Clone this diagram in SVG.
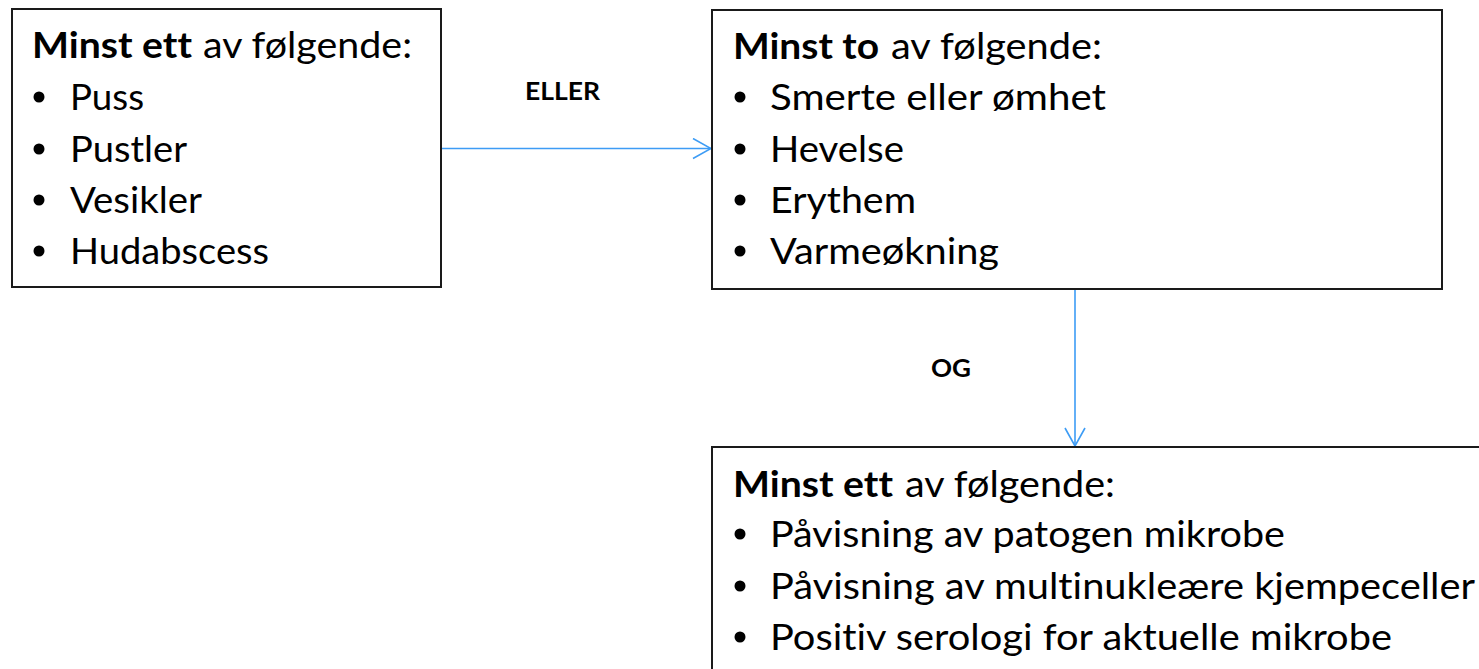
<svg xmlns="http://www.w3.org/2000/svg" width="1479" height="669" viewBox="0 0 1479 669">
  <style>
    .box { fill: #ffffff; stroke: #1a1a1a; stroke-width: 2; }
    .t { font-family: Lato, "Liberation Sans", sans-serif; font-size: 36px; fill: #000000; font-variant-ligatures: none; }
    .b { font-weight: bold; }
    .lbl { font-family: Lato, "Liberation Sans", sans-serif; font-size: 25px; font-weight: bold; fill: #000000; }
    .dot { fill: #000000; }
    .wire { fill: none; stroke: #3d9cf5; stroke-width: 1.6; }
  </style>
  <defs>
    <marker id="open" viewBox="0 0 20 22" refX="19" refY="11" markerWidth="20" markerHeight="22" markerUnits="userSpaceOnUse" orient="auto">
      <path d="M1,1 L19,11 L1,21" fill="none" stroke="#3d9cf5" stroke-width="1.6"/>
    </marker>
  </defs>

  <rect width="1479" height="669" fill="#ffffff"/>

  <g id="connectors">
    <line class="wire" x1="441" y1="148.5" x2="711" y2="148.5" marker-end="url(#open)"/>
    <line class="wire" x1="1075" y1="289" x2="1075" y2="446" marker-end="url(#open)"/>
    <text class="lbl" x="525" y="100" textLength="75" lengthAdjust="spacingAndGlyphs">ELLER</text>
    <text class="lbl" x="931" y="377" textLength="40" lengthAdjust="spacingAndGlyphs">OG</text>
  </g>

  <g id="node-lokale-tegn">
    <rect class="box" x="12" y="9" width="429" height="278"/>
    <text class="t b" x="32" y="58" textLength="160" lengthAdjust="spacingAndGlyphs">Minst ett</text>
    <text class="t" x="203" y="58" textLength="209" lengthAdjust="spacingAndGlyphs">av følgende:</text>
    <circle class="dot" cx="39" cy="97" r="5.5"/>
    <circle class="dot" cx="39" cy="149" r="5.5"/>
    <circle class="dot" cx="39" cy="200" r="5.5"/>
    <circle class="dot" cx="39" cy="251" r="5.5"/>
    <text class="t" x="70" y="110" textLength="74" lengthAdjust="spacingAndGlyphs">Puss</text>
    <text class="t" x="70" y="162" textLength="117" lengthAdjust="spacingAndGlyphs">Pustler</text>
    <text class="t" x="70" y="213" textLength="132" lengthAdjust="spacingAndGlyphs">Vesikler</text>
    <text class="t" x="70" y="264" textLength="199" lengthAdjust="spacingAndGlyphs">Hudabscess</text>
  </g>

  <g id="node-inflammasjon">
    <rect class="box" x="712" y="10" width="730" height="279"/>
    <text class="t b" x="733" y="59" textLength="146" lengthAdjust="spacingAndGlyphs">Minst to</text>
    <text class="t" x="891" y="59" textLength="211" lengthAdjust="spacingAndGlyphs">av følgende:</text>
    <circle class="dot" cx="740" cy="97" r="5.5"/>
    <circle class="dot" cx="740" cy="149" r="5.5"/>
    <circle class="dot" cx="740" cy="200" r="5.5"/>
    <circle class="dot" cx="740" cy="251" r="5.5"/>
    <text class="t" x="770" y="110" textLength="336" lengthAdjust="spacingAndGlyphs">Smerte eller ømhet</text>
    <text class="t" x="770" y="162" textLength="134" lengthAdjust="spacingAndGlyphs">Hevelse</text>
    <text class="t" x="770" y="213" textLength="146" lengthAdjust="spacingAndGlyphs">Erythem</text>
    <text class="t" x="770" y="264" textLength="229" lengthAdjust="spacingAndGlyphs">Varmeøkning</text>
  </g>

  <g id="node-mikrobiologi">
    <rect class="box" x="712" y="447" width="800" height="260"/>
    <text class="t b" x="733" y="497" textLength="160" lengthAdjust="spacingAndGlyphs">Minst ett</text>
    <text class="t" x="905" y="497" textLength="210" lengthAdjust="spacingAndGlyphs">av følgende:</text>
    <circle class="dot" cx="740" cy="534" r="5.5"/>
    <circle class="dot" cx="740" cy="586" r="5.5"/>
    <circle class="dot" cx="740" cy="637" r="5.5"/>
    <text class="t" x="770" y="547" textLength="515" lengthAdjust="spacingAndGlyphs">Påvisning av patogen mikrobe</text>
    <text class="t" x="770" y="599" textLength="705" lengthAdjust="spacingAndGlyphs">Påvisning av multinukleære kjempeceller</text>
    <text class="t" x="770" y="650" textLength="622" lengthAdjust="spacingAndGlyphs">Positiv serologi for aktuelle mikrobe</text>
  </g>
</svg>
